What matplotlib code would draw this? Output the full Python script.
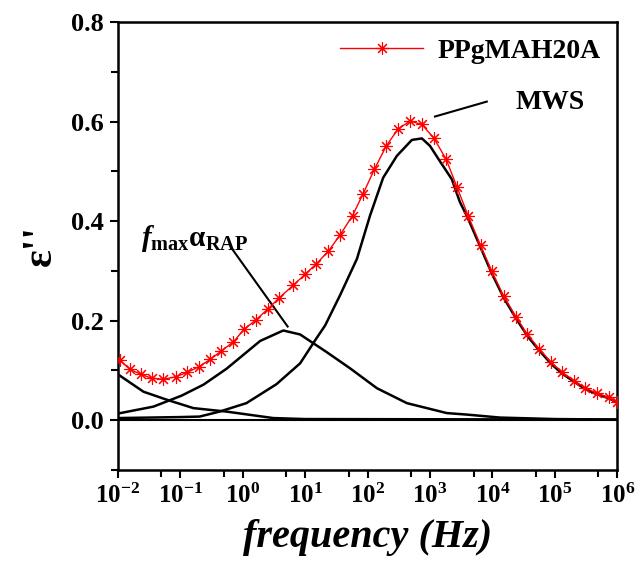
import numpy as np
import matplotlib
matplotlib.use("Agg")
import matplotlib.pyplot as plt
from matplotlib.ticker import FixedLocator, NullFormatter

plt.rcParams['font.family'] = ['Liberation Serif', 'DejaVu Serif']
plt.rcParams['font.weight'] = 'bold'
plt.rcParams['mathtext.fontset'] = 'custom'
plt.rcParams['mathtext.rm'] = 'Liberation Serif:bold'
plt.rcParams['mathtext.bf'] = 'Liberation Serif:bold'
plt.rcParams['mathtext.it'] = 'Liberation Serif:italic:bold'

# measured data: log10(frequency) and eps''
red_logf = [-1.97, -1.81, -1.63, -1.46, -1.27, -1.07, -0.89, -0.70, -0.52, -0.34,
            -0.15, 0.02, 0.21, 0.41, 0.58, 0.81, 1.00, 1.18, 1.37, 1.56,
            1.76, 1.93, 2.11, 2.30, 2.49, 2.68, 2.87, 3.06, 3.26, 3.43,
            3.61, 3.81, 3.99, 4.18, 4.38, 4.56, 4.75, 4.94, 5.12, 5.31,
            5.48, 5.67, 5.86, 5.99]
red_eps = [0.121, 0.102, 0.092, 0.084, 0.082, 0.087, 0.096, 0.107, 0.122, 0.139,
           0.157, 0.182, 0.201, 0.224, 0.245, 0.271, 0.293, 0.314, 0.339, 0.372,
           0.411, 0.455, 0.504, 0.551, 0.585, 0.601, 0.594, 0.567, 0.524, 0.469,
           0.411, 0.351, 0.299, 0.249, 0.207, 0.172, 0.143, 0.116, 0.096, 0.079,
           0.065, 0.054, 0.046, 0.037]

# MWS relaxation component
mws_logf = [-2.0, -1.5, -1.0, -0.69, -0.37, 0.06, 0.54, 0.92, 1.18, 1.32,
            1.56, 1.83, 2.04, 2.25, 2.47, 2.71, 2.87, 3.0, 3.16, 3.35,
            3.48, 3.61, 3.81, 3.99, 4.18, 4.38, 4.56, 4.75, 4.94, 5.12,
            5.31, 5.48, 5.67, 5.86, 6.0]
mws_eps = [0.004, 0.005, 0.006, 0.007, 0.017, 0.034, 0.072, 0.114, 0.164, 0.190,
           0.251, 0.324, 0.411, 0.487, 0.531, 0.563, 0.566, 0.551, 0.52, 0.484,
           0.438, 0.405, 0.347, 0.295, 0.246, 0.204, 0.169, 0.140, 0.113, 0.093,
           0.077, 0.063, 0.052, 0.044, 0.035]

# RAP relaxation component
rap_logf = [-2.0, -1.43, -0.98, -0.63, -0.26, 0.01, 0.28, 0.65, 0.92, 1.34,
            1.72, 2.15, 2.63, 3.27, 3.59, 4.12, 5.0, 6.0]
rap_eps = [0.013, 0.027, 0.049, 0.071, 0.103, 0.131, 0.159, 0.180, 0.172, 0.137,
           0.104, 0.064, 0.034, 0.014, 0.011, 0.005, 0.002, 0.001]

# low frequency tail
low_logf = [-2.0, -1.59, -1.22, -0.79, -0.26, 0.49, 1.0, 6.0]
low_eps = [0.092, 0.057, 0.041, 0.024, 0.017, 0.004, 0.002, 0.001]

fig = plt.figure(figsize=(6.37, 5.64), dpi=100)
ax = fig.add_axes([0.185, 0.167, 0.784, 0.794])

ax.axhline(0, color='black', lw=1.5, zorder=1)
for lf, ep in [(mws_logf, mws_eps), (rap_logf, rap_eps), (low_logf, low_eps)]:
    ax.plot(10 ** np.array(lf), ep, color='black', lw=1.8, zorder=2)
ax.plot(10 ** np.array(red_logf), red_eps, color='red', lw=1.0,
        marker=(8, 2, 0), markersize=9, markeredgewidth=0.8,
        label='PPgMAH20A', zorder=3)

ax.set_xscale('log')
ax.set_xlim(1e-2, 1e6)
ax.set_ylim(-0.1, 0.8)

decades = list(range(-2, 7))
ax.xaxis.set_major_locator(FixedLocator([10.0 ** d for d in decades]))
ax.set_xticklabels([r'$\mathbf{10^{%d}}$' % d for d in decades])
ax.xaxis.set_minor_locator(FixedLocator([5 * 10.0 ** d for d in decades[:-1]]))
ax.xaxis.set_minor_formatter(NullFormatter())
ax.set_yticks([0.0, 0.2, 0.4, 0.6, 0.8])
ax.set_yticks([-0.1, 0.1, 0.3, 0.5, 0.7], minor=True)
ax.set_yticklabels(['0.0', '0.2', '0.4', '0.6', '0.8'])

ax.tick_params(which='major', direction='out', length=6, width=1.5, pad=4)
ax.tick_params(axis='y', labelsize=19)
ax.tick_params(axis='x', labelsize=18)
ax.tick_params(which='minor', direction='out', length=5, width=1.5)
for lab in ax.get_yticklabels():
    lab.set_fontweight('bold')
for s in ax.spines.values():
    s.set_linewidth(1.8)

ax.set_xlabel('frequency (Hz)', fontsize=29, fontweight='bold',
              fontstyle='italic', labelpad=8)
ax.set_ylabel("ε''", fontsize=30, fontweight='bold', labelpad=8)

leg = ax.legend(loc='upper right', frameon=False, fontsize=20,
                handlelength=3.0, handletextpad=0.5, borderaxespad=0.2)

ax.text(10 ** 4.93, 0.638, 'MWS', fontsize=20, fontweight='bold',
        ha='center', va='center')
ax.plot([10 ** 3.91, 10 ** 3.08], [0.64, 0.61], color='black', lw=1.5)
ax.text(10 ** -0.77, 0.364, r'$\mathit{f}_{\mathbf{max}}\mathrm{\alpha}_{\mathbf{RAP}}$',
        fontsize=21, ha='center', va='center')
ax.plot([10 ** -0.17, 10 ** 0.72], [0.344, 0.188], color='black', lw=1.5)

fig.savefig('out.png', dpi=100)
